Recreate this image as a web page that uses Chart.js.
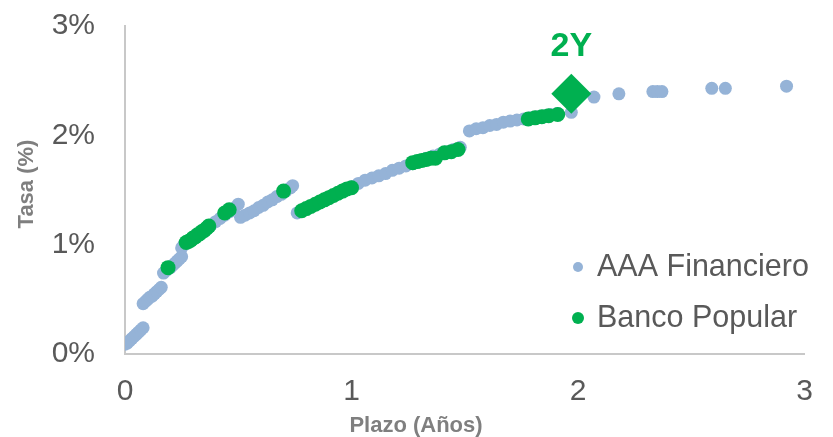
<!DOCTYPE html>
<html>
<head>
<meta charset="utf-8">
<script src="https://cdn.jsdelivr.net/npm/chart.js@4/dist/chart.umd.min.js"></script>
<style>
  html, body { margin: 0; padding: 0; background: #ffffff; }
  #wrap { width: 833px; height: 437px; position: relative; }
</style>
</head>
<body>
<div id="wrap"><canvas id="c" width="833" height="437"></canvas></div>
<script>
// Curva AAA Financiero (plazo en años, tasa en %)
const aaaPlazo = [
  0.00, 0.01, 0.02, 0.03, 0.04, 0.05, 0.06, 0.07, 0.08,
  0.08, 0.09, 0.10, 0.11, 0.12, 0.13, 0.14, 0.15, 0.16,
  0.17, 0.18, 0.19, 0.20, 0.21, 0.22, 0.23, 0.24, 0.25,
  0.25, 0.26, 0.28, 0.30, 0.32, 0.34, 0.36, 0.38, 0.40, 0.42, 0.44, 0.46, 0.48, 0.50,
  0.51, 0.53, 0.55, 0.57, 0.59, 0.61, 0.63, 0.65, 0.67, 0.69, 0.71, 0.73, 0.74,
  0.76, 0.78, 0.80, 0.82, 0.84, 0.86, 0.88, 0.90, 0.92, 0.94, 0.96, 0.98, 1.00,
  1.03, 1.06, 1.09, 1.12, 1.15, 1.18, 1.21, 1.24, 1.27, 1.30, 1.33, 1.36, 1.39, 1.42, 1.45, 1.48,
  1.52, 1.55, 1.58, 1.61, 1.64, 1.67, 1.70, 1.73, 1.76, 1.79, 1.82, 1.85, 1.88, 1.91, 1.97,
  2.07, 2.18, 2.33, 2.35, 2.37, 2.59, 2.65, 2.92
];
const aaaTasa = [
  0.09, 0.10, 0.12, 0.14, 0.16, 0.18, 0.20, 0.22, 0.24,
  0.46, 0.48, 0.50, 0.52, 0.53, 0.55, 0.57, 0.59, 0.61,
  0.74, 0.76, 0.78, 0.79, 0.81, 0.83, 0.85, 0.87, 0.89,
  0.97, 1.00, 1.03, 1.06, 1.09, 1.12, 1.15, 1.18, 1.21, 1.24, 1.27, 1.30, 1.33, 1.37,
  1.25, 1.27, 1.29, 1.31, 1.34, 1.36, 1.39, 1.41, 1.44, 1.46, 1.49, 1.52, 1.54,
  1.29, 1.31, 1.33, 1.35, 1.37, 1.39, 1.41, 1.43, 1.45, 1.47, 1.49, 1.51, 1.53,
  1.56, 1.59, 1.61, 1.63, 1.65, 1.68, 1.70, 1.72, 1.74, 1.77, 1.79, 1.81, 1.83, 1.85, 1.87, 1.89,
  2.04, 2.06, 2.07, 2.09, 2.10, 2.12, 2.13, 2.14, 2.15, 2.16, 2.17, 2.18, 2.19, 2.20, 2.21,
  2.35, 2.38, 2.40, 2.40, 2.40, 2.43, 2.43, 2.45
];

// Emisiones Banco Popular
const bpPlazo = [
  0.19,
  0.27, 0.28, 0.29, 0.30, 0.31, 0.32, 0.33, 0.34, 0.35, 0.36, 0.37,
  0.44, 0.46,
  0.70,
  0.78, 0.80, 0.82, 0.84, 0.86, 0.88, 0.90, 0.92, 0.94, 0.96, 0.98, 1.00,
  1.27, 1.29, 1.31, 1.33, 1.35, 1.37,
  1.41, 1.44, 1.47,
  1.78, 1.81, 1.84, 1.87, 1.91
];
const bpTasa = [
  0.79,
  1.02, 1.03, 1.04, 1.06, 1.07, 1.09, 1.10, 1.12, 1.13, 1.15, 1.17,
  1.29, 1.32,
  1.49,
  1.31, 1.33, 1.35, 1.37, 1.39, 1.41, 1.43, 1.45, 1.47, 1.49, 1.51, 1.52,
  1.75, 1.76, 1.77, 1.78, 1.79, 1.79,
  1.84, 1.85, 1.87,
  2.15, 2.16, 2.17, 2.18, 2.19
];

// Nueva emisión a 2 años
const nuevaPlazo = [1.97];
const nuevaTasa = [2.38];
const nuevaEtiqueta = '2Y';

const seriesNames = ['AAA Financiero', 'Banco Popular'];
const xTicks = [0, 1, 2, 3];
const yTicks = [0, 1, 2, 3];

const BLUE = '#95B3D7';
const GREEN = '#00B050';
const TEXT = '#595959';
const TITLE = '#7F7F7F';
const FONT = '"Liberation Sans", Arial, sans-serif';

const toPoints = (xs, ys) => xs.map((x, i) => ({ x: x, y: ys[i] }));

// Leyenda dentro del área de trazado (abajo a la derecha)
const insideLegend = {
  id: 'insideLegend',
  afterDatasetsDraw(chart) {
    const ctx = chart.ctx;
    const a = chart.chartArea;
    const items = [
      { label: seriesNames[0], color: BLUE, r: 5, dy: -87 },
      { label: seriesNames[1], color: GREEN, r: 6, dy: -36 }
    ];
    ctx.save();
    ctx.font = '30.5px ' + FONT;
    ctx.textBaseline = 'middle';
    ctx.textAlign = 'left';
    items.forEach(it => {
      const y = a.bottom + it.dy;
      ctx.fillStyle = it.color;
      ctx.beginPath();
      ctx.arc(a.left + 453, y, it.r, 0, Math.PI * 2);
      ctx.fill();
      ctx.fillStyle = TEXT;
      ctx.fillText(it.label, a.left + 472, y + 1);
    });
    ctx.restore();
  }
};

// Títulos de ejes y etiqueta de la nueva emisión
const extras = {
  id: 'extras',
  afterDraw(chart) {
    const ctx = chart.ctx;
    const a = chart.chartArea;
    ctx.save();
    ctx.fillStyle = TITLE;
    ctx.font = 'bold 22px ' + FONT;
    ctx.textAlign = 'center';
    ctx.textBaseline = 'middle';
    ctx.fillText('Plazo (Años)', a.left + 291, a.bottom + 72);
    ctx.translate(27, a.top + 158);
    ctx.rotate(-Math.PI / 2);
    ctx.fillText('Tasa (%)', 0, 0);
    ctx.restore();

    const meta = chart.getDatasetMeta(0);
    const pt = meta.data[0];
    if (pt) {
      ctx.save();
      ctx.fillStyle = GREEN;
      ctx.font = 'bold 34px ' + FONT;
      ctx.textAlign = 'center';
      ctx.textBaseline = 'middle';
      ctx.fillText(nuevaEtiqueta, pt.x, pt.y - 47);
      ctx.restore();
    }
  }
};

new Chart(document.getElementById('c'), {
  type: 'scatter',
  data: {
    datasets: [
      {
        label: nuevaEtiqueta,
        data: toPoints(nuevaPlazo, nuevaTasa),
        pointStyle: 'rectRot',
        pointRadius: 20,
        pointHoverRadius: 20,
        backgroundColor: GREEN,
        borderColor: GREEN,
        borderWidth: 0,
        order: 1
      },
      {
        label: seriesNames[1],
        data: toPoints(bpPlazo, bpTasa),
        pointRadius: 7.5,
        pointHoverRadius: 7.5,
        backgroundColor: GREEN,
        borderColor: GREEN,
        borderWidth: 0,
        order: 2
      },
      {
        label: seriesNames[0],
        data: toPoints(aaaPlazo, aaaTasa),
        pointRadius: 6.5,
        pointHoverRadius: 6.5,
        backgroundColor: BLUE,
        borderColor: BLUE,
        borderWidth: 0,
        order: 3
      }
    ]
  },
  options: {
    responsive: false,
    animation: false,
    devicePixelRatio: 1,
    layout: { padding: { top: 26, right: 27, left: 0, bottom: 0 } },
    plugins: {
      legend: { display: false },
      tooltip: { enabled: false }
    },
    scales: {
      x: {
        type: 'linear',
        min: xTicks[0],
        max: xTicks[xTicks.length - 1],
        afterBuildTicks: s => { s.ticks = xTicks.map(v => ({ value: v })); },
        afterFit: s => { s.height = 83; },
        grid: { display: false, drawTicks: false },
        border: { display: true, color: '#C8C8C8', width: 2 },
        ticks: {
          padding: 20,
          color: TEXT,
          font: { family: FONT, size: 30 },
          callback: v => String(v)
        }
      },
      y: {
        type: 'linear',
        min: yTicks[0],
        max: yTicks[yTicks.length - 1],
        afterBuildTicks: s => { s.ticks = yTicks.map(v => ({ value: v })); },
        afterFit: s => { s.width = 125; s.paddingTop = 0; s.paddingBottom = 0; },
        grid: { display: false, drawTicks: false },
        border: { display: true, color: '#C8C8C8', width: 2 },
        ticks: {
          padding: 30,
          color: TEXT,
          font: { family: FONT, size: 30 },
          callback: v => v + '%'
        }
      }
    }
  },
  plugins: [insideLegend, extras]
});
</script>
</body>
</html>
